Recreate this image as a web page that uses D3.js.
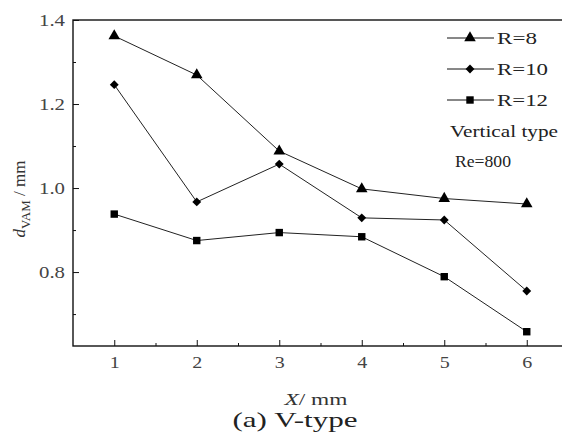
<!DOCTYPE html>
<html>
<head>
<meta charset="utf-8">
<script src="https://cdn.jsdelivr.net/npm/d3@7"></script>
<style>
  body { margin: 0; background: #fff; }
</style>
</head>
<body>
<div class="graph-container"></div>
<script>
// data
const xValues = [1, 2, 3, 4, 5, 6];
const r8 = [1.362, 1.269, 1.088, 0.998, 0.975, 0.962];
const r10 = [1.246, 0.967, 1.057, 0.929, 0.924, 0.755];
const r12 = [0.938, 0.875, 0.894, 0.884, 0.789, 0.658];
const seriesNames = ["R=8", "R=10", "R=12"];
const yTicks = [0.8, 1.0, 1.2, 1.4];

const serif = "'Liberation Serif', 'Times New Roman', serif";

let dims = { width: 562, height: 445 };
let plot = { left: 73, top: 20, right: 568, bottom: 346 };

const svg = d3.select(".graph-container")
  .append("svg")
  .attr("width", dims.width)
  .attr("height", dims.height)
  .attr("font-family", serif);

const x = d3.scaleLinear().domain([0.5, 6.5]).range([plot.left, plot.right]);
const y = d3.scaleLinear().domain([0.624, 1.4]).range([plot.bottom, plot.top]);

// frame
svg.append("rect")
  .attr("x", plot.left).attr("y", plot.top)
  .attr("width", plot.right - plot.left).attr("height", plot.bottom - plot.top)
  .attr("fill", "none").attr("stroke", "#111").attr("stroke-width", 1.4);

// y axis, ticks inward
const yAxis = svg.append("g").attr("transform", `translate(${plot.left},0)`)
  .call(d3.axisRight(y).tickValues(yTicks).tickSize(6).tickFormat(d3.format(".1f")))
  .attr("font-family", serif);
yAxis.select(".domain").remove();
yAxis.selectAll("line").attr("stroke", "#111");
yAxis.selectAll("text").attr("x", -8).attr("text-anchor", "end")
  .attr("font-size", 16).attr("fill", "#444")
  .attr("textLength", 26).attr("lengthAdjust", "spacingAndGlyphs");
svg.append("g").attr("transform", `translate(${plot.left},0)`)
  .call(d3.axisRight(y).tickValues([0.7, 0.9, 1.1, 1.3]).tickSize(3).tickFormat(""))
  .call(g => g.select(".domain").remove())
  .selectAll("line").attr("stroke", "#111");

// x axis, ticks inward
const xAxis = svg.append("g").attr("transform", `translate(0,${plot.bottom})`)
  .call(d3.axisTop(x).tickValues(xValues).tickSize(6).tickFormat(d3.format("d")))
  .attr("font-family", serif);
xAxis.select(".domain").remove();
xAxis.selectAll("line").attr("stroke", "#111");
xAxis.selectAll("text").attr("y", 22).attr("dy", "0")
  .attr("font-size", 16).attr("fill", "#444")
  .attr("textLength", 10).attr("lengthAdjust", "spacingAndGlyphs");
svg.append("g").attr("transform", `translate(0,${plot.bottom})`)
  .call(d3.axisTop(x).tickValues([1.5, 2.5, 3.5, 4.5, 5.5]).tickSize(3).tickFormat(""))
  .call(g => g.select(".domain").remove())
  .selectAll("line").attr("stroke", "#111");

// series
const symbols = [d3.symbolTriangle, d3.symbolDiamond2, d3.symbolSquare];
const sizes = [58, 50, 55];
const allSeries = [r8, r10, r12];

const line = d3.line().x((d, i) => x(xValues[i])).y(d => y(d));

allSeries.forEach((vals, s) => {
  svg.append("path").attr("d", line(vals))
    .attr("fill", "none").attr("stroke", "#222").attr("stroke-width", 1);
  svg.selectAll(".m" + s).data(vals).enter().append("path")
    .attr("class", "m" + s)
    .attr("transform", (d, i) => `translate(${x(xValues[i])},${y(d)})`)
    .attr("d", d3.symbol().type(symbols[s]).size(sizes[s]))
    .attr("fill", "#000");
});

// legend
const legendWidths = [40, 51, 51];
const legend = svg.append("g").attr("transform", "translate(447,38)");
seriesNames.forEach((name, i) => {
  const g = legend.append("g").attr("transform", `translate(0,${i * 31})`);
  g.append("line").attr("x1", 0).attr("x2", 47).attr("stroke", "#111").attr("stroke-width", 1);
  g.append("path").attr("transform", "translate(23,0)")
    .attr("d", d3.symbol().type(symbols[i]).size(sizes[i])).attr("fill", "#000");
  g.append("text").attr("x", 50).attr("dy", "0.35em").attr("font-size", 17).attr("fill", "#222")
    .attr("textLength", legendWidths[i]).attr("lengthAdjust", "spacingAndGlyphs").text(name);
});
legend.append("text").attr("x", 3).attr("y", 93).attr("dy", "0.35em")
  .attr("font-size", 17).attr("fill", "#222")
  .attr("textLength", 108).attr("lengthAdjust", "spacingAndGlyphs").text("Vertical type");
legend.append("text").attr("x", 8).attr("y", 123).attr("dy", "0.35em")
  .attr("font-size", 17).attr("fill", "#222")
  .attr("textLength", 56).attr("lengthAdjust", "spacingAndGlyphs").text("Re=800");

// axis titles
const yt = svg.append("text")
  .attr("transform", "translate(25,199) rotate(-90)")
  .attr("text-anchor", "middle").attr("font-size", 17).attr("fill", "#333");
yt.append("tspan").attr("font-style", "italic").text("d");
yt.append("tspan").attr("font-size", 13).attr("dy", 5).text("VAM");
yt.append("tspan").attr("dy", -5).text(" / mm");

const xt = svg.append("text").attr("x", 316).attr("y", 405)
  .attr("text-anchor", "middle").attr("font-size", 16).attr("fill", "#333")
  .attr("textLength", 63).attr("lengthAdjust", "spacingAndGlyphs");
xt.append("tspan").attr("font-style", "italic").text("X");
xt.append("tspan").text("/ mm");

svg.append("text").attr("x", 295).attr("y", 427)
  .attr("text-anchor", "middle").attr("font-size", 21).attr("fill", "#222")
  .attr("textLength", 125).attr("lengthAdjust", "spacingAndGlyphs").text("(a) V-type");
</script>
</body>
</html>
